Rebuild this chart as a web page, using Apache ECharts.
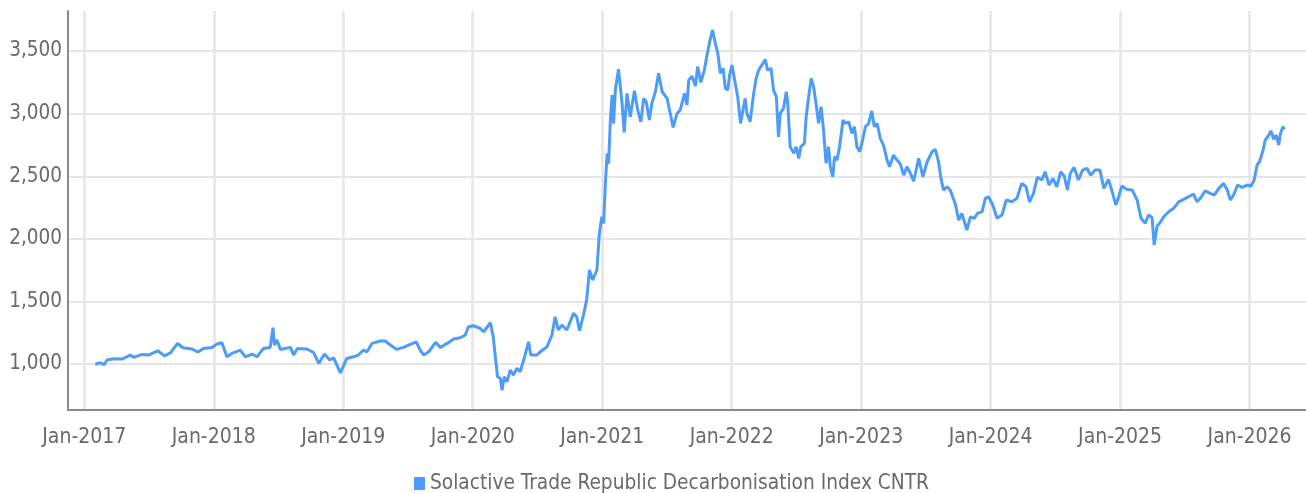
<!DOCTYPE html>
<html>
<head>
<meta charset="utf-8">
<script src="https://cdn.jsdelivr.net/npm/echarts@6/dist/echarts.min.js"></script>
<style>
html,body{margin:0;padding:0;background:#fff;}
#chart{width:1306px;height:493px;}
</style>
</head>
<body>
<div id="chart"></div>
<script>
const seriesName = 'Solactive Trade Republic Decarbonisation Index CNTR';

const dates = [
'2017-02-01','2017-02-15','2017-02-26','2017-03-06','2017-03-25','2017-04-17','2017-05-11','2017-05-20','2017-06-13','2017-07-01',
'2017-07-27','2017-08-15','2017-09-01','2017-09-21','2017-10-06','2017-11-01','2017-11-17','2017-12-04','2017-12-27',
'2018-01-10','2018-01-24','2018-02-07','2018-02-21','2018-03-17','2018-03-31','2018-04-19','2018-05-03','2018-05-21','2018-06-09',
'2018-06-17','2018-06-21','2018-06-28','2018-07-08','2018-08-05','2018-08-14','2018-08-25','2018-09-21','2018-10-10','2018-10-24',
'2018-11-09','2018-11-24','2018-12-05','2018-12-24',
'2019-01-11','2019-01-30','2019-02-13','2019-02-27','2019-03-09','2019-03-23','2019-04-15','2019-04-29','2019-05-14','2019-05-31',
'2019-06-20','2019-07-04','2019-07-26','2019-08-06','2019-08-16','2019-08-30','2019-09-18','2019-10-02','2019-10-21','2019-11-08',
'2019-11-27','2019-12-11','2019-12-20',
'2020-01-03','2020-01-22','2020-02-01','2020-02-20','2020-02-28','2020-03-05','2020-03-11','2020-03-19','2020-03-24','2020-03-30',
'2020-04-07','2020-04-16','2020-04-25','2020-05-05','2020-05-14','2020-05-24','2020-06-07','2020-06-13','2020-06-30','2020-07-10',
'2020-07-29','2020-08-12','2020-08-21','2020-08-30','2020-09-09','2020-09-23','2020-10-12','2020-10-21','2020-10-29','2020-11-09',
'2020-11-18','2020-11-26','2020-12-05','2020-12-17','2020-12-24','2020-12-31',
'2021-01-05','2021-01-10','2021-01-15','2021-01-19','2021-01-24','2021-01-29','2021-02-02','2021-02-07','2021-02-16','2021-02-26',
'2021-03-04','2021-03-12','2021-03-21','2021-04-02','2021-04-11','2021-04-20','2021-04-28','2021-05-05','2021-05-14','2021-05-21',
'2021-05-31','2021-06-09','2021-06-19','2021-07-03','2021-07-20','2021-07-31','2021-08-09','2021-08-21','2021-08-28','2021-09-02',
'2021-09-11','2021-09-21','2021-09-27','2021-10-06','2021-10-16','2021-10-24','2021-11-01','2021-11-08','2021-11-16','2021-11-23',
'2021-11-30','2021-12-08','2021-12-14','2021-12-21','2021-12-26',
'2022-01-02','2022-01-11','2022-01-18','2022-01-26','2022-02-08','2022-02-13','2022-02-22','2022-03-04','2022-03-11','2022-03-18',
'2022-03-27','2022-04-06','2022-04-12','2022-04-22','2022-04-29','2022-05-07','2022-05-13','2022-05-18','2022-05-27','2022-06-04',
'2022-06-08','2022-06-15','2022-06-25','2022-07-02','2022-07-09','2022-07-15','2022-07-25','2022-07-30','2022-08-06','2022-08-13',
'2022-08-20','2022-08-28','2022-09-03','2022-09-10','2022-09-17','2022-09-24','2022-10-01','2022-10-06','2022-10-13','2022-10-18',
'2022-10-25','2022-11-01','2022-11-11','2022-11-17','2022-11-27','2022-12-06','2022-12-13','2022-12-20','2022-12-28',
'2023-01-03','2023-01-13','2023-01-22','2023-01-31','2023-02-07','2023-02-15','2023-02-24','2023-03-05','2023-03-15','2023-03-22',
'2023-04-02','2023-04-12','2023-04-21','2023-05-01','2023-05-10','2023-05-20','2023-05-29','2023-06-07','2023-06-12','2023-06-24',
'2023-07-06','2023-07-20','2023-07-29','2023-08-07','2023-08-14','2023-08-21','2023-08-31','2023-09-09','2023-09-23','2023-10-03',
'2023-10-12','2023-10-26','2023-11-05','2023-11-16','2023-11-25','2023-12-08','2023-12-17','2023-12-26',
'2024-01-07','2024-01-19','2024-02-02','2024-02-14','2024-03-01','2024-03-15','2024-03-29','2024-04-10','2024-04-20','2024-05-01',
'2024-05-12','2024-05-25','2024-06-03','2024-06-14','2024-06-25','2024-07-06','2024-07-17','2024-07-27','2024-08-05','2024-08-13',
'2024-08-24','2024-09-05','2024-09-17','2024-09-29','2024-10-10','2024-10-22','2024-11-05','2024-11-16','2024-11-29','2024-12-11',
'2024-12-20','2024-12-28',
'2025-01-06','2025-01-20','2025-02-04','2025-02-18','2025-03-01','2025-03-13','2025-03-22','2025-04-01','2025-04-07','2025-04-15',
'2025-04-24','2025-05-04','2025-05-18','2025-06-01','2025-06-15','2025-06-29','2025-07-13','2025-07-27','2025-08-06','2025-08-15',
'2025-08-29','2025-09-12','2025-09-24','2025-10-06','2025-10-20','2025-10-30','2025-11-08','2025-11-17','2025-11-28','2025-12-11',
'2025-12-25',
'2026-01-05','2026-01-14','2026-01-22','2026-01-29','2026-02-08','2026-02-14','2026-02-24','2026-03-02','2026-03-10','2026-03-17',
'2026-03-24','2026-03-29','2026-04-05','2026-04-09'
];

const values = [
998,1010,995,1032,1042,1040,1072,1053,1077,1072,
1106,1066,1090,1165,1130,1120,1096,1125,1133,
1160,1170,1058,1085,1112,1058,1080,1058,1125,1133,
1290,1152,1192,1117,1133,1072,1125,1120,1090,1005,
1080,1032,1050,930,
1045,1058,1072,1112,1098,1165,1184,1184,1152,1117,
1133,1152,1178,1112,1072,1098,1173,1133,1165,1200,
1210,1232,1298,
1306,1285,1258,1330,1218,1058,899,886,790,899,
859,952,912,966,938,1032,1178,1072,1072,1098,
1138,1232,1378,1272,1312,1272,1405,1378,1266,1391,
1511,1751,1671,1751,2044,2177,
2124,2443,2683,2600,2949,3148,2920,3188,3354,3082,
2850,3162,2975,3183,3030,2935,3122,3095,2949,3082,
3175,3322,3175,3122,2890,3002,3029,3162,3069,3268,
3300,3220,3376,3250,3348,3475,3588,3668,3561,3481,
3322,3362,3202,3188,3308,
3388,3242,3135,2922,3122,3002,2935,3162,3282,3348,
3388,3433,3348,3362,3188,3135,2815,3002,3042,3175,
3082,2736,2683,2736,2643,2736,2762,2975,3135,3282,
3215,3055,2922,3055,2869,2603,2736,2576,2496,2656,
2629,2736,2949,2922,2935,2842,2895,2736,2696,
2762,2895,2922,3022,2895,2922,2802,2749,2629,2576,
2669,2629,2600,2509,2576,2522,2460,2576,2643,2496,
2616,2696,2715,2616,2483,2390,2416,2390,2283,2150,
2204,2070,2176,2164,2204,2217,2323,2336,
2270,2164,2190,2310,2296,2323,2443,2416,2296,2363,
2491,2470,2536,2430,2483,2416,2536,2502,2390,2522,
2571,2470,2549,2563,2509,2549,2549,2403,2475,2363,
2270,2336,
2422,2395,2390,2310,2164,2124,2190,2170,1950,2100,
2130,2177,2217,2244,2296,2315,2336,2358,2296,2323,
2384,2363,2350,2403,2443,2390,2310,2350,2430,2411,
2430,
2422,2470,2589,2616,2709,2789,2829,2863,2795,2829,
2749,2842,2895,2874
];

const yAxisRange = [633, 3820];
const xAxisRange = ['2016-11-16', '2026-06-09'];

function fracYear(s) {
  const p = s.split('-').map(Number);
  const y = p[0];
  const t = Date.UTC(y, p[1] - 1, p[2]);
  const a = Date.UTC(y, 0, 1), b = Date.UTC(y + 1, 0, 1);
  return y + (t - a) / (b - a);
}

const seriesData = dates.map((d, i) => [fracYear(d), values[i]]);

const FONT = "'DejaVu Sans Condensed', 'Liberation Sans Narrow', Roboto, sans-serif";
const TXT = '#6a6a6a';
const chart = echarts.init(document.getElementById('chart'), null, {renderer: 'canvas'});
chart.setOption({
  animation: false,
  backgroundColor: '#ffffff',
  grid: {left: 68, right: 0, top: 11, bottom: 83, containLabel: false, outerBoundsMode: 'none'},
  legend: {
    data: [seriesName],
    left: 409,
    top: 468,
    icon: 'rect',
    itemWidth: 11,
    itemHeight: 13,
    itemGap: 10,
    textStyle: {fontFamily: FONT, fontSize: 20.7, color: TXT}
  },
  xAxis: {
    type: 'value',
    min: fracYear(xAxisRange[0]),
    max: fracYear(xAxisRange[1]),
    minInterval: 1,
    maxInterval: 1,
    axisLine: {show: true, lineStyle: {color: '#8a8a8a', width: 2}},
    axisTick: {show: false},
    axisLabel: {
      showMinLabel: false, showMaxLabel: false,
      margin: 17,
      fontFamily: FONT, fontSize: 21, color: TXT,
      formatter: v => 'Jan-' + Math.round(v)
    },
    splitLine: {show: true, showMinLine: false, showMaxLine: false, lineStyle: {color: '#e6e6e6', width: 2.5}}
  },
  yAxis: {
    type: 'value',
    min: yAxisRange[0],
    max: yAxisRange[1],
    minInterval: 500,
    maxInterval: 500,
    axisLine: {show: true, lineStyle: {color: '#8a8a8a', width: 2}},
    axisTick: {show: false},
    axisLabel: {
      showMinLabel: false, showMaxLabel: false,
      margin: 6,
      fontFamily: FONT, fontSize: 20.5, color: TXT,
      formatter: v => Math.round(v).toLocaleString('en-US')
    },
    splitLine: {show: true, showMinLine: false, showMaxLine: false, lineStyle: {color: '#e6e6e6', width: 2}}
  },
  series: [{
    name: seriesName,
    type: 'line',
    data: seriesData,
    showSymbol: false,
    symbol: 'none',
    color: '#4d9cf8',
    lineStyle: {color: '#4d9cf8', width: 3},
    itemStyle: {color: '#4d9cf8'}
  }]
});
</script>
</body>
</html>
